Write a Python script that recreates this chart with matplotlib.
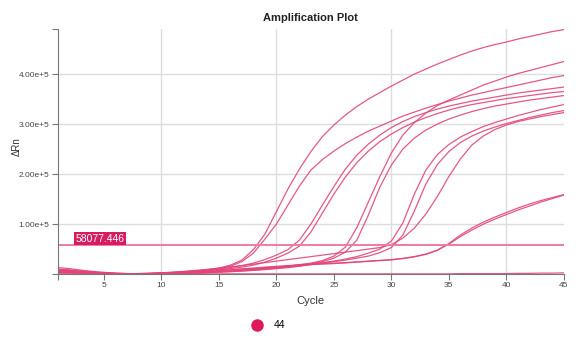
import matplotlib
matplotlib.use('Agg')
import matplotlib.pyplot as plt
from matplotlib.lines import Line2D

plt.rcParams['font.family'] = ['Liberation Sans', 'DejaVu Sans']

# cycles and delta Rn per well (units of 1e4)
cycles = list(range(1, 46))

curve_a = [1.3, 1.1, 0.8, 0.55, 0.35, 0.2, 0.1, 0.1, 0.15, 0.25, 0.35, 0.5, 0.65, 0.9, 1.2,
           1.8, 2.8, 4.9, 8.0, 12.5, 17.0, 21.0, 24.5, 27.5, 29.8, 31.8, 33.5, 35.0, 36.3, 37.6,
           38.8, 40.0, 41.0, 42.0, 42.9, 43.8, 44.6, 45.3, 45.9, 46.4, 47.0, 47.5, 48.0, 48.5, 48.9]
curve_b = [1.0, 0.85, 0.6, 0.4, 0.25, 0.15, 0.1, 0.1, 0.15, 0.2, 0.3, 0.45, 0.6, 0.8, 1.1,
           1.6, 2.5, 4.2, 7.0, 10.0, 13.8, 17.6, 20.8, 22.9, 24.6, 26.1, 27.4, 28.6, 29.6, 30.6,
           31.6, 32.4, 33.2, 33.9, 34.6, 35.2, 35.8, 36.3, 36.8, 37.3, 37.8, 38.3, 38.8, 39.3, 39.7]
curve_c = [0.8, 0.7, 0.5, 0.35, 0.2, 0.1, 0.05, 0.05, 0.1, 0.2, 0.3, 0.45, 0.6, 0.8, 1.0,
           1.3, 1.7, 2.2, 2.9, 3.8, 4.9, 6.8, 10.0, 13.8, 17.5, 21.0, 23.8, 26.0, 27.8, 29.3,
           30.5, 31.5, 32.3, 33.0, 33.6, 34.1, 34.6, 35.0, 35.4, 35.8, 36.2, 36.5, 36.8, 37.1, 37.4]
curve_d = [0.6, 0.5, 0.4, 0.3, 0.2, 0.1, 0.05, 0.05, 0.1, 0.15, 0.25, 0.35, 0.5, 0.65, 0.85,
           1.1, 1.4, 1.8, 2.4, 3.2, 4.2, 5.6, 8.4, 12.2, 16.0, 19.4, 22.3, 24.6, 26.5, 28.0,
           29.3, 30.4, 31.3, 32.1, 32.8, 33.4, 33.9, 34.3, 34.7, 35.1, 35.4, 35.7, 36.0, 36.3, 36.5]
curve_e = [0.5, 0.45, 0.35, 0.25, 0.15, 0.1, 0.05, 0.05, 0.05, 0.1, 0.15, 0.2, 0.3, 0.4, 0.5,
           0.6, 0.75, 0.9, 1.1, 1.3, 1.6, 1.9, 2.2, 2.7, 3.6, 5.4, 9.3, 14.4, 19.5, 24.2,
           27.8, 30.3, 32.2, 33.7, 34.8, 35.8, 36.8, 37.8, 38.6, 39.4, 40.1, 40.7, 41.3, 41.9, 42.5]
curve_f = [0.4, 0.35, 0.3, 0.2, 0.1, 0.05, 0.05, 0.05, 0.05, 0.1, 0.1, 0.15, 0.2, 0.3, 0.4,
           0.5, 0.6, 0.75, 0.9, 1.1, 1.3, 1.6, 2.0, 2.5, 3.2, 4.4, 6.8, 11.8, 17.4, 21.8,
           25.0, 27.2, 28.8, 30.0, 31.0, 31.8, 32.5, 33.1, 33.6, 34.0, 34.4, 34.8, 35.1, 35.4, 35.7]
curve_g = [0.3, 0.25, 0.2, 0.15, 0.1, 0.05, 0.05, 0.05, 0.05, 0.1, 0.15, 0.2, 0.3, 0.4, 0.5,
           0.65, 0.8, 1.0, 1.2, 1.4, 1.6, 1.8, 2.0, 2.3, 2.6, 3.0, 3.5, 4.2, 5.0, 6.6,
           10.2, 16.0, 20.8, 23.9, 25.9, 27.4, 28.5, 29.5, 30.3, 31.0, 31.7, 32.3, 32.9, 33.4, 33.9]
curve_h = [0.2, 0.2, 0.15, 0.1, 0.05, 0.05, 0.05, 0.05, 0.05, 0.05, 0.1, 0.15, 0.2, 0.3, 0.4,
           0.5, 0.65, 0.8, 1.0, 1.2, 1.4, 1.6, 1.9, 2.2, 2.5, 2.8, 3.2, 3.6, 4.3, 5.3,
           7.8, 12.6, 18.0, 21.9, 24.5, 26.3, 27.6, 28.6, 29.4, 30.1, 30.7, 31.3, 31.8, 32.3, 32.7]
curve_i = [0.9, 0.75, 0.55, 0.4, 0.25, 0.15, 0.1, 0.1, 0.15, 0.25, 0.4, 0.55, 0.75, 0.95, 1.2,
           1.45, 1.7, 2.0, 2.3, 2.6, 2.9, 3.2, 3.5, 3.8, 4.1, 4.4, 4.7, 5.0, 5.3, 5.9,
           7.2, 9.2, 12.0, 15.5, 19.5, 23.0, 25.8, 27.6, 28.9, 29.8, 30.5, 31.0, 31.5, 31.9, 32.3]
curve_j = [0.7, 0.6, 0.45, 0.3, 0.2, 0.1, 0.05, 0.05, 0.1, 0.15, 0.25, 0.35, 0.45, 0.6, 0.75,
           0.9, 1.05, 1.2, 1.4, 1.55, 1.7, 1.85, 2.0, 2.1, 2.2, 2.3, 2.45, 2.6, 2.75, 2.9,
           3.15, 3.5, 4.0, 4.8, 6.0, 7.5, 8.8, 10.0, 11.0, 11.9, 12.8, 13.6, 14.4, 15.1, 15.8]
curve_k = [0.6, 0.5, 0.4, 0.3, 0.2, 0.1, 0.05, 0.05, 0.1, 0.15, 0.2, 0.3, 0.4, 0.55, 0.7,
           0.85, 1.0, 1.15, 1.3, 1.45, 1.6, 1.75, 1.9, 2.0, 2.1, 2.25, 2.4, 2.55, 2.7, 2.85,
           3.1, 3.45, 3.95, 4.75, 6.1, 7.8, 9.2, 10.4, 11.4, 12.3, 13.2, 14.0, 14.7, 15.3, 15.9]
curve_flat = [0.3, 0.25, 0.2, 0.15, 0.1, 0.05, 0.05, 0.05, 0.05, 0.05, 0.05, 0.05, 0.05, 0.05, 0.05,
              0.05, 0.05, 0.05, 0.05, 0.05, 0.05, 0.05, 0.05, 0.05, 0.05, 0.05, 0.05, 0.05, 0.05, 0.05,
              0.05, 0.05, 0.05, 0.05, 0.05, 0.1, 0.1, 0.1, 0.1, 0.1, 0.15, 0.15, 0.2, 0.2, 0.25]

curves = [curve_a, curve_b, curve_c, curve_d, curve_e, curve_f, curve_g,
          curve_h, curve_i, curve_j, curve_k, curve_flat]

threshold = 58077.446
x_ticks = [5, 10, 15, 20, 25, 30, 35, 40, 45]
y_ticks = [0, 100000, 200000, 300000, 400000]
y_labels = ['', '1.00e+5', '2.00e+5', '3.00e+5', '4.00e+5']

line_color = '#e2457b'

fig = plt.figure(figsize=(5.8, 3.38), dpi=100)
ax = fig.add_axes([0.1, 0.189, 0.872, 0.725])

for c in curves:
    ax.plot(cycles, [v * 1e4 for v in c], color=line_color, lw=0.9, alpha=0.9)

# threshold line and its label
ax.axhline(threshold, color='#f07aa0', lw=1.4)
ax.text(2.5, threshold + 2500, '58077.446', color='white', fontsize=7.5,
        va='bottom', ha='left',
        bbox=dict(facecolor='#d81b60', edgecolor='none', pad=1.2))

ax.set_xlim(1, 45)
ax.set_ylim(0, 490000)
ax.set_xticks([1] + x_ticks)
ax.set_xticklabels([''] + [str(t) for t in x_ticks])
ax.set_yticks(y_ticks + [490000])
ax.set_yticklabels(y_labels + [''])

for x in [10, 20, 30, 40]:
    ax.axvline(x, color='#dddddd', lw=1, zorder=0)
for y in y_ticks[1:]:
    ax.axhline(y, color='#dddddd', lw=1, zorder=0)

for s in ['top', 'right']:
    ax.spines[s].set_visible(False)
for s in ['left', 'bottom']:
    ax.spines[s].set_color('#777777')
ax.tick_params(colors='#777777', labelcolor='#444444', labelsize=6, length=4, width=0.8, pad=2)

ax.set_xlabel('Cycle', fontsize=8, color='#333333', labelpad=5)
ax.set_ylabel('ΔRn', fontsize=7, color='#333333')
ax.yaxis.set_label_coords(-0.072, 0.52)
ax.set_title('Amplification Plot', fontsize=8, fontweight='bold', color='#222222', pad=6)

handle = Line2D([], [], marker='o', linestyle='', color='#e0185c', markersize=8)
fig.legend([handle], ['44'], loc='center', bbox_to_anchor=(0.458, 0.038),
           frameon=False, fontsize=7.5, handletextpad=0.6)

fig.savefig('out.png', dpi=100)
